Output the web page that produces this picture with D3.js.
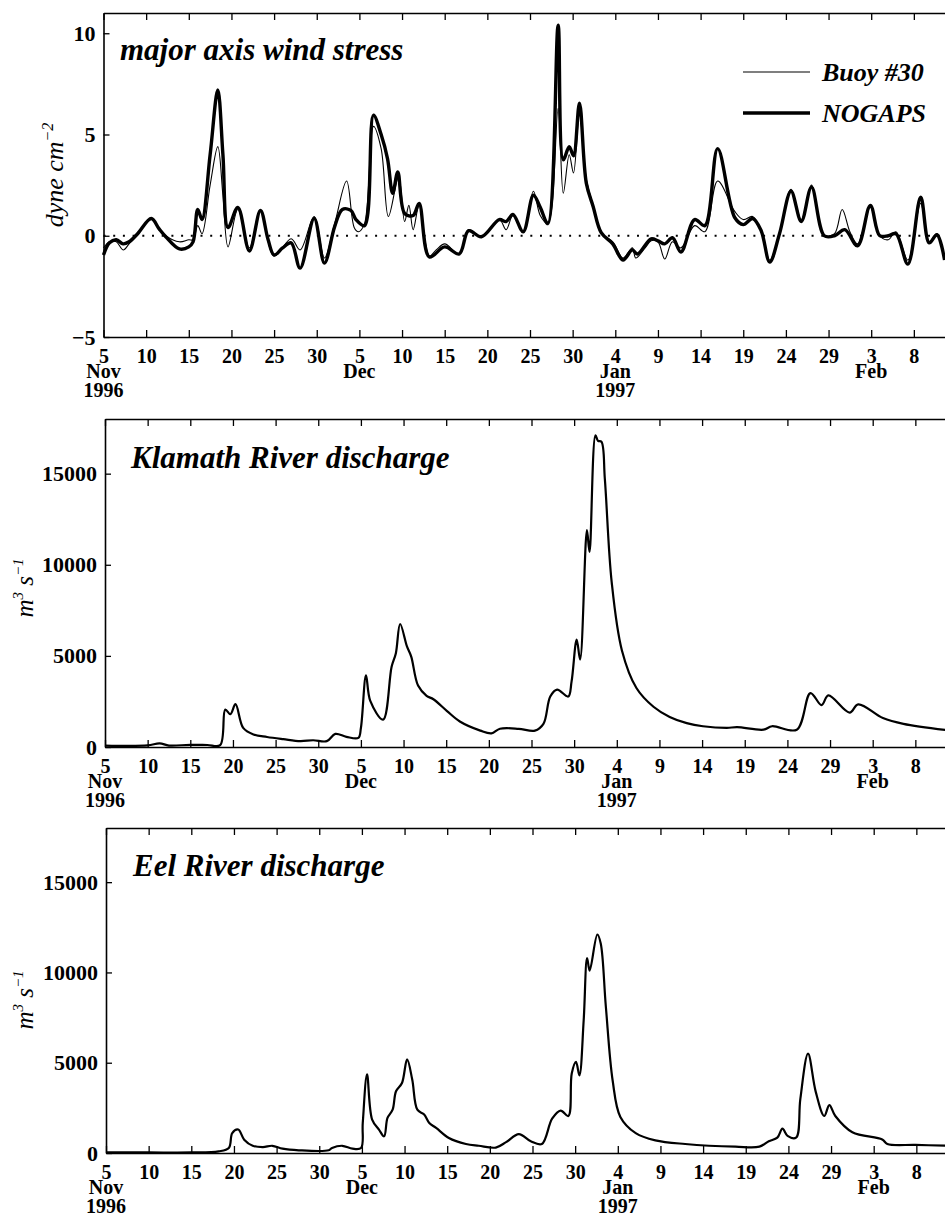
<!DOCTYPE html>
<html>
<head>
<meta charset="utf-8">
<script src="https://cdn.jsdelivr.net/npm/d3@7"></script>
<style>
  body { margin: 0; background: #fff; }
  text { font-family: "Liberation Serif", "Times New Roman", serif; }
</style>
</head>
<body>
<script>
// x values are days counted from 5 Nov 1996
tickDays = d3.range(0, 100, 5)
dayLabels = ["5","10","15","20","25","30","5","10","15","20","25","30","4","9","14","19","24","29","3","8"]
monthLabels = [[0, "Nov"], [30, "Dec"], [60, "Jan"], [90, "Feb"]]
yearLabels = [[0, "1996"], [60, "1997"]]

stressTicks = [-5, 0, 5, 10]
flowTicks = [0, 5000, 10000, 15000]

// major axis wind stress, dyne cm^-2
nogapsDays = [0,0.7,1.5,2.3,3.0,4.0,5.6,6.5,7.3,8.9,10.0,10.5,11.05,11.55,12.5,13.4,14.0,14.6,15.75,17.1,18.4,19.3,20.0,21.0,22.0,23.05,24.7,25.9,27.1,28.0,29.0,29.6,30.6,31.65,32.55,33.3,33.9,34.5,35.3,36.3,37.0,38.2,40.0,41.7,42.8,44.3,46.4,47.2,48.0,49.2,50.4,51.2,52.1,53.3,53.9,54.6,55.1,55.8,56.6,57.4,58.35,59.7,60.9,62.0,62.6,64.2,65.0,65.8,66.7,67.7,69.3,70.5,72.0,74.0,75.0,76.1,77.1,78.1,79.25,80.6,81.8,83.0,84.5,85.7,86.9,88.4,89.9,91.0,92.0,92.9,94.3,95.8,96.8,97.7,98.6]
nogapsStress = [-0.95,-0.35,-0.2,-0.4,-0.3,0.1,0.85,0.35,-0.05,-0.65,-0.55,-0.3,1.3,0.8,4.0,7.2,4.0,0.4,1.4,-0.75,1.25,-0.2,-0.95,-0.6,-0.35,-1.6,0.85,-1.35,0.45,1.3,1.25,0.8,0.5,5.95,5.0,3.8,2.1,3.15,1.1,1.0,1.6,-1.05,-0.55,-0.9,0.25,-0.05,0.8,0.7,1.05,0.2,2.0,1.4,0.6,10.4,3.75,4.4,3.95,6.55,2.6,1.45,0.15,-0.4,-1.2,-0.7,-0.9,-0.15,-0.25,-0.4,-0.1,-0.8,0.8,0.5,4.3,0.9,0.55,0.85,0.25,-1.3,0.1,2.2,0.7,2.4,0.0,0.0,0.3,-0.5,1.5,0.0,0.0,0.1,-1.4,1.9,-0.35,0.05,-1.2]

buoyDays = [0,0.7,1.5,2.3,3.0,4.0,5.6,6.5,7.3,8.9,10.0,10.5,11.05,11.55,12.5,13.4,14.0,14.6,15.75,17.1,18.4,20.0,22.0,23.05,24.7,25.9,27.1,28.5,29.4,29.9,30.6,31.65,32.55,33.4,34.6,35.3,35.8,36.3,37.0,38.2,39.0,40.0,41.7,42.8,44.3,46.4,47.2,48.0,49.2,50.4,51.2,52.1,53.3,53.9,54.6,55.1,55.8,56.6,57.4,58.35,59.7,60.9,62.0,62.4,63.5,64.2,65.0,65.8,66.7,67.7,69.3,70.5,72.0,74.0,75.0,76.1,77.1,78.1,79.25,80.6,81.8,83.0,84.5,85.7,86.6,87.5,88.4,89.9,91.0,92.0,92.9,94.3,95.8,96.8,97.7,98.6]
buoyStress = [-0.6,-0.3,-0.3,-0.7,-0.4,0.1,0.8,0.35,0.0,-0.3,-0.2,-0.2,0.5,0.1,2.5,4.4,2.0,-0.55,1.3,-0.6,1.2,-1.0,-0.15,-0.7,0.95,-1.1,0.6,2.7,0.4,0.2,0.6,5.4,4.3,0.95,2.9,0.7,1.5,0.3,1.5,-1.0,-0.7,-0.4,-0.9,0.3,-0.05,0.8,0.3,1.0,0.2,2.2,1.0,0.6,6.3,2.1,4.0,3.1,6.0,2.8,1.5,0.1,-0.3,-1.1,-0.6,-1.1,-0.6,-0.25,-0.3,-1.15,-0.3,-0.6,0.5,0.2,2.7,1.2,0.8,0.95,0.2,-1.2,0.1,2.3,0.8,2.5,0.0,0.1,1.3,0.2,-0.4,1.4,0.0,-0.2,0.2,-1.2,1.6,-0.3,0.1,-1.1]

// river discharge, m^3 s^-1
klamathDays = [0,5,6.4,7.5,10,12,13.5,14.1,14.7,15.3,16.2,17.4,19,20.9,22.9,24.4,26.0,27.0,28.3,29.7,30.0,30.6,31.1,32.6,33.6,34.1,34.6,35.4,35.9,36.7,37.7,38.5,40.1,41.6,44.0,45.3,46.3,48.5,50.4,51.4,52.2,53.0,54.3,54.7,55.3,55.7,56.5,56.8,57.5,57.8,58.2,58.6,59.4,60.6,62.3,64.3,66.2,68.2,70.1,72.9,74.1,77.2,78.2,81.1,82.7,84.0,84.8,87.3,88.3,91.2,93.6,98.6]
klamathFlow = [80,90,200,80,120,110,100,2050,1800,2350,1050,690,550,430,320,370,320,720,560,500,1040,3930,2530,1500,4400,5150,6750,5520,4960,3370,2810,2620,1970,1400,900,750,1000,1000,900,1270,2770,3150,2770,3600,5900,4800,11900,10700,17100,16800,16750,14700,9050,5300,3240,2210,1650,1310,1140,1050,1090,950,1140,950,2960,2300,2830,1890,2340,1590,1270,930]

eelDays = [0,5,10,13.2,14.4,14.8,15.5,16.2,17.2,18.4,19.5,20.7,22.6,26.1,26.5,27.7,28.9,29.9,30.1,30.6,31.2,32.0,32.6,33.0,33.6,34.0,34.7,35.3,35.9,36.5,37.3,37.9,38.7,40.2,42.2,43.7,45.7,46.9,48.4,49.8,51.1,52.3,53.3,54.2,54.6,55.1,55.5,56.0,56.4,56.7,57.6,58.0,58.6,59.4,60.3,62.1,64.4,67.9,73.8,76.6,77.7,78.7,79.3,79.9,80.9,81.4,82.3,83.2,84.2,84.8,85.5,87.5,91.0,91.6,94.9,98.6]
eelFlow = [30,30,30,90,280,1100,1300,740,400,330,400,240,150,150,280,400,240,280,1660,4350,1850,1300,925,1940,2400,3420,3880,5180,4070,2400,2130,1660,1390,830,500,400,300,600,1050,650,500,1900,2350,2050,4400,5050,4300,7350,10800,10100,12100,11600,8100,4000,2000,1100,700,500,350,350,650,850,1350,950,850,3000,5500,3400,2050,2650,2050,1150,750,500,450,400]

var W = 945, H = 1216
var pxPerDay = 8.53

var svg = d3.select("body").append("svg")
    .attr("width", W)
    .attr("height", H)

// draws the frame, both date axes and the y axis of one panel
function drawPanel(p) {
  var x = d3.scaleLinear().domain([0, 100]).range([p.left, p.left + 100 * pxPerDay])
  var y = d3.scaleLinear().domain(p.domain).range([p.bottom, p.top])

  var g = svg.append("g")

  var bottomAxis = g.append("g")
      .attr("transform", `translate(0,${p.bottom})`)
      .call(d3.axisBottom(x).tickValues(tickDays).tickSize(-7).tickSizeOuter(0)
        .tickFormat((d, i) => dayLabels[i]))
  bottomAxis.selectAll("text")
      .attr("y", 26).attr("dy", null)
      .attr("font-size", 20).attr("font-weight", "bold")
  monthLabels.forEach(function(m) {
    bottomAxis.append("text").attr("x", x(m[0])).attr("y", 41)
        .attr("text-anchor", "middle").attr("font-size", 20).attr("font-weight", "bold")
        .attr("fill", "#000").text(m[1])
  })
  yearLabels.forEach(function(m) {
    bottomAxis.append("text").attr("x", x(m[0])).attr("y", 60)
        .attr("text-anchor", "middle").attr("font-size", 20).attr("font-weight", "bold")
        .attr("fill", "#000").text(m[1])
  })

  g.append("g")
      .attr("transform", `translate(0,${p.top})`)
      .call(d3.axisTop(x).tickValues(tickDays).tickSize(-7).tickSizeOuter(0).tickFormat(""))

  g.append("g")
      .attr("transform", `translate(${p.left},0)`)
      .call(d3.axisLeft(y).tickValues(p.ticks).tickSize(-6).tickSizeOuter(0).tickPadding(8)
        .tickFormat(d => d < 0 ? "\u2212" + Math.abs(d) : d))
    .selectAll("text")
      .attr("font-size", 22).attr("font-weight", "bold")

  g.selectAll(".domain").attr("stroke-width", 1.6)
  g.selectAll(".tick line").attr("stroke-width", 1.3)

  // panel title
  g.append("text")
      .attr("x", p.titleX).attr("y", p.top + p.titleDy)
      .attr("font-size", 31).attr("font-style", "italic").attr("font-weight", "bold")
      .text(p.title)

  return {x: x, y: y, g: g}
}

function line(x, y, days, vals) {
  return d3.line()
      .x((d, i) => x(days[i]))
      .y(d => y(d))
      .curve(d3.curveCatmullRom.alpha(0.5))(vals)
}

// ---- panel 1: wind stress
var p1 = drawPanel({top: 13, bottom: 337, left: 103.5, domain: [-5, 11], ticks: stressTicks,
  title: "major axis wind stress", titleX: 120, titleDy: 47})

p1.g.append("line")
    .attr("x1", p1.x(0)).attr("x2", W)
    .attr("y1", p1.y(0)).attr("y2", p1.y(0))
    .attr("stroke", "#000").attr("stroke-width", 2)
    .attr("stroke-dasharray", "2,7.7")

p1.g.append("path")
    .attr("d", line(p1.x, p1.y, buoyDays, buoyStress))
    .attr("fill", "none").attr("stroke", "#000").attr("stroke-width", 1.1)
p1.g.append("path")
    .attr("d", line(p1.x, p1.y, nogapsDays, nogapsStress))
    .attr("fill", "none").attr("stroke", "#000").attr("stroke-width", 3.4)
    .attr("stroke-linejoin", "round")

var yl1 = p1.g.append("text")
    .attr("transform", "translate(63,175) rotate(-90)")
    .attr("text-anchor", "middle").attr("font-size", 26).attr("font-style", "italic")
yl1.append("tspan").text("dyne cm")
yl1.append("tspan").attr("dy", -10).attr("font-size", 16).text("\u22122")

// legend
var legend = [["Buoy #30", 1.1, 72], ["NOGAPS", 3.6, 113]]
legend.forEach(function(l) {
  p1.g.append("line")
      .attr("x1", 743).attr("x2", 810).attr("y1", l[2]).attr("y2", l[2])
      .attr("stroke", "#000").attr("stroke-width", l[1])
  p1.g.append("text")
      .attr("x", 822).attr("y", l[2] + 9)
      .attr("font-size", 26).attr("font-style", "italic").attr("font-weight", "bold")
      .text(l[0])
})

// ---- panels 2 and 3: river discharge
function flowLabel(g, cy) {
  var t = g.append("text")
      .attr("transform", `translate(33,${cy}) rotate(-90)`)
      .attr("text-anchor", "middle").attr("font-size", 25).attr("font-style", "italic")
  t.append("tspan").text("m")
  t.append("tspan").attr("dy", -10).attr("font-size", 15).text("3")
  t.append("tspan").attr("dy", 10).text(" s")
  t.append("tspan").attr("dy", -10).attr("font-size", 15).text("\u22121")
}

var p2 = drawPanel({top: 419, bottom: 747, left: 105, domain: [0, 18000], ticks: flowTicks,
  title: "Klamath River discharge", titleX: 131, titleDy: 49})
p2.g.append("path")
    .attr("d", line(p2.x, p2.y, klamathDays, klamathFlow))
    .attr("fill", "none").attr("stroke", "#000").attr("stroke-width", 2.2)
    .attr("stroke-linejoin", "round")
flowLabel(p2.g, 588)

var p3 = drawPanel({top: 828, bottom: 1153, left: 106, domain: [0, 18000], ticks: flowTicks,
  title: "Eel River discharge", titleX: 133, titleDy: 48})
p3.g.append("path")
    .attr("d", line(p3.x, p3.y, eelDays, eelFlow))
    .attr("fill", "none").attr("stroke", "#000").attr("stroke-width", 2.2)
    .attr("stroke-linejoin", "round")
flowLabel(p3.g, 1000)
</script>
</body>
</html>
